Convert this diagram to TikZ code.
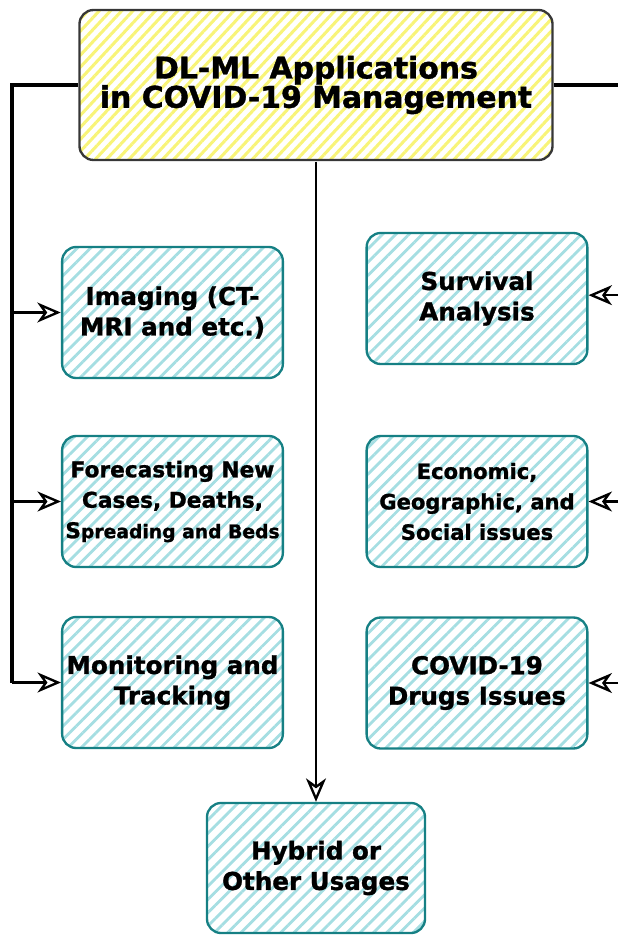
\documentclass[tikz,border=0pt]{standalone}
\usepackage{fontspec}
\setmainfont{DejaVu Sans}[BoldFeatures={FakeBold=1.2}]
\usetikzlibrary{arrows.meta}
\usetikzlibrary{patterns.meta}
\usetikzlibrary{positioning}

\definecolor{boxteal}{RGB}{22,128,132}
\definecolor{hatchteal}{RGB}{165,222,226}
\definecolor{hatchyellow}{RGB}{248,244,120}
\definecolor{topborder}{RGB}{55,55,55}

\tikzset{
  topbox/.style={draw=topborder, line width=2pt, rounded corners=12pt,
    pattern={Lines[angle=47,distance=7pt,line width=2.6pt]}, pattern color=hatchyellow,
    minimum width=14.19cm, minimum height=4.5cm, align=center,
    font=\fontsize{25.5}{25}\selectfont\bfseries},
  appbox/.style={draw=boxteal, line width=2pt, rounded corners=12pt,
    pattern={Lines[angle=45,distance=8pt,line width=2.4pt]}, pattern color=hatchteal,
    minimum width=6.62cm, minimum height=3.93cm, align=center, inner sep=1pt,
    font=\fontsize{21}{26}\selectfont\bfseries},
  link/.style={line width=2.8pt, black},
  arrowlink/.style={line width=2pt, black, -{Stealth[open,length=20pt,width=17pt,inset=6pt]}}
}

\begin{document}
\begin{tikzpicture}[x=0.03cm, y=-0.03cm]
      \useasboundingbox (0,0) rectangle (618,935);

      \node[topbox] (top) at (316,85) {DL-ML Applications\\in COVID-19 Management};

      \node[appbox] (imaging)  at (172.5,312.5) {Imaging (CT-\\MRI and etc.)};
      \node[appbox, font=\fontsize{18.5}{26}\selectfont\bfseries] (forecast) at (172.5,501.5)
        {Forecasting New\\Cases, Deaths,\\S{\fontsize{16}{26}\selectfont preading and Beds}};
      \node[appbox] (monitor)  at (172.5,682.5) {Monitoring and\\Tracking};

      \node[appbox] (survival) at (477,298.5) {Survival\\Analysis};
      \node[appbox, font=\fontsize{18}{26}\selectfont\bfseries] (economic) at (477,501.5)
        {Economic,\\Geographic, and\\Social issues};
      \node[appbox] (drugs)    at (477,683) {COVID-19\\Drugs Issues};

      \node[appbox, minimum width=6.54cm, minimum height=3.9cm] (hybrid) at (316,868) {Hybrid or\\Other Usages};

      \coordinate (lbus) at (12,85);
      \coordinate (rbus) at (618,85);

      % left branch
      \draw[link] (top.west) -- (lbus) -- (lbus |- monitor.west);
      \draw[arrowlink] (lbus |- imaging.west) -- (imaging.west);
      \draw[arrowlink] (lbus |- forecast.west) -- (forecast.west);
      \draw[arrowlink] (lbus |- monitor.west) -- (monitor.west);

      % right branch
      \draw[link] (top.east) -- (rbus);
      \draw[arrowlink] ([yshift=0.1cm]rbus |- survival.east) -- ([yshift=0.1cm]survival.east);
      \draw[arrowlink] (rbus |- economic.east) -- (economic.east);
      \draw[arrowlink] (rbus |- drugs.east) -- (drugs.east);

      \draw[arrowlink] (top.south) -- (hybrid.north);
\end{tikzpicture}
\end{document}
